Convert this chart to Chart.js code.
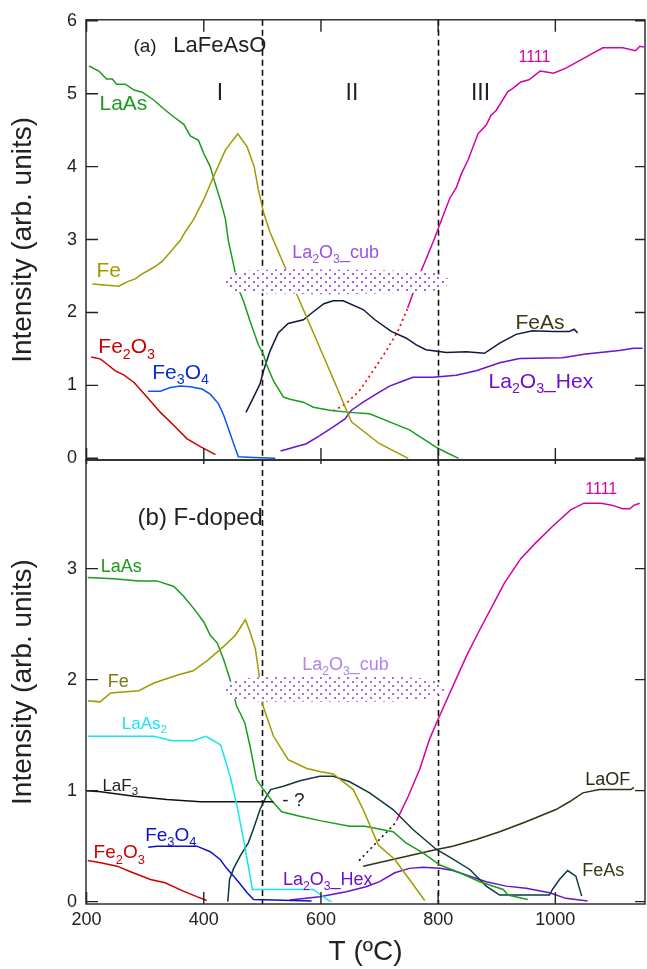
<!DOCTYPE html>
<html>
<head>
<meta charset="utf-8">
<script src="https://cdn.jsdelivr.net/npm/chart.js@4.4.1/dist/chart.umd.min.js"></script>
<style>
  html, body { margin: 0; padding: 0; background: #fff; }
  #wrap { position: relative; width: 647px; height: 969px; }
  #wrap canvas { position: absolute; left: 0; top: 0; }
</style>
</head>
<body>
<div id="wrap">
  <canvas id="topChart" width="647" height="969"></canvas>
  <canvas id="bottomChart" width="647" height="969"></canvas>
</div>
<script>
const FONT = '"Liberation Sans", Arial, Helvetica, sans-serif';

// axes
const xTicks = [200, 400, 600, 800, 1000];
const yTicksA = [0, 1, 2, 3, 4, 5, 6];
const yTicksB = [0, 1, 2, 3];
const boundaryT = [500, 800];

// ---- (a) LaFeAsO ----
const laAsA_T = [204, 221, 234, 244, 251, 266, 281, 295, 315, 332, 349, 366, 377, 391, 400, 411, 419, 428, 437, 442, 451, 459, 468, 479, 493, 502, 507, 519, 536, 547, 570, 587, 615, 649, 683, 717, 751, 774, 797, 814, 835];
const laAsA_I = [5.38, 5.31, 5.20, 5.20, 5.13, 5.13, 5.05, 5.02, 4.91, 4.79, 4.68, 4.58, 4.42, 4.36, 4.18, 4.00, 3.78, 3.55, 3.28, 2.98, 2.65, 2.33, 2.15, 1.88, 1.56, 1.42, 1.29, 1.06, 0.84, 0.81, 0.77, 0.70, 0.66, 0.63, 0.61, 0.50, 0.39, 0.27, 0.15, 0.08, 0.0];

const feA_T = [210, 255, 269, 283, 295, 315, 329, 343, 360, 368, 383, 400, 417, 437, 458, 474, 486, 493, 502, 513, 564, 615, 652, 700, 749];
const feA_I = [2.39, 2.36, 2.42, 2.46, 2.53, 2.62, 2.70, 2.83, 2.99, 3.10, 3.28, 3.55, 3.87, 4.23, 4.45, 4.27, 4.00, 3.69, 3.37, 3.10, 2.15, 1.20, 0.50, 0.20, 0.0];

const fe2o3A_T = [208, 224, 235, 249, 264, 281, 303, 326, 349, 371, 394, 420];
const fe2o3A_I = [1.39, 1.36, 1.29, 1.20, 1.14, 1.04, 0.84, 0.63, 0.45, 0.27, 0.16, 0.05];

const fe3o4A_T = [305, 326, 343, 360, 377, 397, 411, 425, 434, 442, 451, 459, 485, 522];
const fe3o4A_I = [0.92, 0.92, 0.97, 0.99, 0.98, 0.95, 0.88, 0.75, 0.59, 0.41, 0.20, 0.02, 0.01, 0.0];

const feAsA_T = [472, 485, 496, 502, 513, 527, 544, 570, 587, 605, 621, 638, 672, 692, 720, 745, 762, 779, 814, 848, 879, 905, 933, 961, 996, 1024, 1032, 1038];
const feAsA_I = [0.63, 0.84, 1.02, 1.20, 1.47, 1.72, 1.85, 1.90, 2.01, 2.12, 2.16, 2.16, 2.04, 1.90, 1.74, 1.65, 1.56, 1.49, 1.45, 1.46, 1.44, 1.58, 1.70, 1.75, 1.74, 1.74, 1.77, 1.72];

const hexA_T = [531, 575, 598, 621, 641, 652, 672, 694, 717, 740, 757, 791, 831, 865, 905, 939, 1012, 1052, 1109, 1134, 1149];
const hexA_I = [0.10, 0.20, 0.31, 0.43, 0.54, 0.66, 0.77, 0.88, 0.99, 1.06, 1.11, 1.11, 1.14, 1.20, 1.31, 1.37, 1.38, 1.43, 1.48, 1.51, 1.51];

const extrapA_T = [621, 643, 666, 689, 711, 731, 748];
const extrapA_I = [0.65, 0.75, 0.93, 1.20, 1.47, 1.74, 2.06];

const p1111A_T = [748, 768, 791, 820, 831, 839, 851, 868, 882, 890, 899, 919, 927, 941, 955, 974, 997, 1018, 1052, 1081, 1115, 1137, 1144, 1151];
const p1111A_I = [2.06, 2.51, 2.96, 3.57, 3.71, 3.89, 4.09, 4.45, 4.57, 4.70, 4.77, 5.03, 5.07, 5.16, 5.19, 5.31, 5.28, 5.35, 5.50, 5.63, 5.63, 5.59, 5.65, 5.64];

const cubA_T = [437, 450, 470, 520, 600, 700, 780, 805, 822];
const cubA_hi = [2.47, 2.54, 2.57, 2.59, 2.59, 2.58, 2.56, 2.51, 2.44];
const cubA_lo = [2.37, 2.30, 2.27, 2.26, 2.25, 2.26, 2.28, 2.33, 2.40];

// ---- (b) F-doped ----
const laAsB_T = [202, 246, 289, 320, 349, 366, 383, 400, 411, 423, 434, 445, 456, 462, 470, 479, 490, 502, 519, 533, 564, 598, 649, 675, 723, 745, 774, 803, 837, 871, 911, 919, 953];
const laAsB_I = [2.92, 2.91, 2.89, 2.89, 2.84, 2.75, 2.64, 2.52, 2.40, 2.33, 2.18, 2.00, 1.76, 1.70, 1.61, 1.40, 1.10, 1.01, 0.89, 0.81, 0.77, 0.73, 0.68, 0.68, 0.63, 0.53, 0.44, 0.33, 0.26, 0.18, 0.11, 0.06, 0.02];

const feB_T = [202, 223, 241, 289, 315, 354, 382, 408, 434, 454, 471, 479, 488, 494, 500, 519, 544, 576, 600, 621, 655, 672, 698, 726, 751, 777];
const feB_I = [1.81, 1.80, 1.88, 1.90, 1.97, 2.04, 2.08, 2.18, 2.30, 2.40, 2.54, 2.43, 2.28, 2.06, 1.78, 1.49, 1.28, 1.20, 1.17, 1.15, 1.01, 0.83, 0.51, 0.38, 0.20, 0.01];

const laAs2B_T = [202, 315, 346, 382, 403, 417, 429, 445, 458, 470, 483, 587, 600, 610, 618];
const laAs2B_I = [1.49, 1.49, 1.45, 1.45, 1.49, 1.45, 1.41, 1.13, 0.83, 0.50, 0.11, 0.11, 0.06, 0.02, 0.0];

const laF3B_T = [200, 224, 281, 337, 394, 519];
const laF3B_I = [1.00, 0.99, 0.95, 0.92, 0.90, 0.90];

const fe3o4B_T = [305, 320, 360, 388, 411, 428, 439, 451, 459, 474, 485, 519, 584];
const fe3o4B_I = [0.49, 0.50, 0.50, 0.50, 0.45, 0.38, 0.30, 0.23, 0.18, 0.08, 0.02, 0.015, 0.006];

const fe2o3B_T = [202, 224, 252, 275, 309, 334, 363, 388, 405];
const fe2o3B_I = [0.37, 0.35, 0.32, 0.27, 0.20, 0.17, 0.10, 0.045, 0.01];

const feAsB_T = [441, 444, 451, 462, 476, 485, 496, 505, 514, 536, 564, 598, 621, 649, 683, 723, 757, 797, 814, 854, 882, 905, 990, 995, 1007, 1021, 1035, 1045];
const feAsB_I = [0.0, 0.20, 0.30, 0.41, 0.53, 0.66, 0.83, 0.93, 1.01, 1.04, 1.09, 1.13, 1.13, 1.08, 0.98, 0.83, 0.65, 0.47, 0.42, 0.29, 0.14, 0.06, 0.06, 0.11, 0.20, 0.28, 0.23, 0.05];

const laOFB_T = [672, 797, 825, 865, 905, 950, 1001, 1024, 1047, 1075, 1109, 1129, 1134];
const laOFB_I = [0.32, 0.47, 0.50, 0.56, 0.63, 0.72, 0.83, 0.90, 0.98, 1.01, 1.01, 1.01, 1.03];

const extrapB_T = [665, 729];
const extrapB_I = [0.37, 0.72];

const p1111B_T = [729, 749, 769, 785, 797, 808, 825, 848, 871, 893, 913, 941, 966, 995, 1026, 1049, 1078, 1098, 1115, 1127, 1134, 1144];
const p1111B_I = [0.73, 0.95, 1.20, 1.46, 1.61, 1.74, 1.94, 2.21, 2.45, 2.67, 2.87, 3.09, 3.23, 3.38, 3.53, 3.59, 3.59, 3.57, 3.54, 3.54, 3.57, 3.59];

const hexB_T = [547, 598, 643, 677, 700, 726, 751, 774, 803, 825, 848, 882, 916, 950, 990, 1018, 1055];
const hexB_I = [0.015, 0.045, 0.09, 0.135, 0.18, 0.26, 0.30, 0.31, 0.30, 0.28, 0.24, 0.18, 0.14, 0.12, 0.08, 0.03, 0.006];

const cubB_T = [437, 450, 470, 520, 600, 700, 780, 800, 816];
const cubB_hi = [1.95, 1.99, 2.01, 2.03, 2.04, 2.03, 2.01, 1.98, 1.93];
const cubB_lo = [1.88, 1.83, 1.81, 1.80, 1.80, 1.80, 1.82, 1.86, 1.90];

// text placed on the plots, anchored in data units (left, baseline)
const labelsA = [
  { t: 280, v: 5.57, text: '(a)', size: 19, color: '#222' },
  { t: 348, v: 5.57, text: 'LaFeAsO', size: 22, color: '#222' },
  { t: 422, v: 4.92, text: 'I', size: 23, color: '#222' },
  { t: 642, v: 4.92, text: 'II', size: 23, color: '#222' },
  { t: 856, v: 4.92, text: 'III', size: 23, color: '#222' },
  { t: 222, v: 4.77, text: 'LaAs', size: 21, color: '#1a9c1a' },
  { t: 937, v: 5.44, text: '1111', size: 16, color: '#d400a8' },
  { t: 217, v: 2.48, text: 'Fe', size: 21, color: '#a09a00' },
  { t: 220, v: 1.44, text: 'Fe{2}O{3}', size: 21, color: '#cc0000' },
  { t: 312, v: 1.09, text: 'Fe{3}O{4}', size: 21, color: '#0a2fd0' },
  { t: 551, v: 2.74, text: 'La{2}O{3}_cub', size: 18, color: '#9a52e4' },
  { t: 932, v: 1.78, text: 'FeAs', size: 21, color: '#3a3a12' },
  { t: 886, v: 0.97, text: 'La{2}O{3}_Hex', size: 21, color: '#6a12d0' }
];
const labelsB = [
  { t: 287, v: 3.39, text: '(b) F-doped', size: 24, color: '#222' },
  { t: 224, v: 2.97, text: 'LaAs', size: 18, color: '#1a9c1a' },
  { t: 236, v: 1.93, text: 'Fe', size: 18, color: '#7d7810' },
  { t: 568, v: 2.09, text: 'La{2}O{3}_cub', size: 18, color: '#b184ec' },
  { t: 1051, v: 3.67, text: '1111', size: 16, color: '#d400a8' },
  { t: 260, v: 1.56, text: 'LaAs{2}', size: 17, color: '#16e4f0' },
  { t: 227, v: 1.00, text: 'LaF{3}', size: 17, color: '#222' },
  { t: 534, v: 0.86, text: '- ?', size: 19, color: '#222' },
  { t: 300, v: 0.55, text: 'Fe{3}O{4}', size: 19, color: '#1010c8' },
  { t: 212, v: 0.39, text: 'Fe{2}O{3}', size: 19, color: '#cc0000' },
  { t: 535, v: 0.15, text: 'La{2}O{3}_Hex', size: 18, color: '#6a12d0' },
  { t: 1051, v: 1.05, text: 'LaOF', size: 18, color: '#2b2b14' },
  { t: 1046, v: 0.23, text: 'FeAs', size: 18, color: '#3a3a12' }
];

function pts(ts, vs) {
  return ts.map((t, i) => ({ x: t, y: vs[i] }));
}

// white tile with a staggered grid of dots; the band hides what lies under it
function stipple(color) {
  const c = document.createElement('canvas');
  c.width = 9; c.height = 8;
  const g = c.getContext('2d');
  g.fillStyle = '#fff';
  g.fillRect(0, 0, 9, 8);
  g.fillStyle = color;
  g.fillRect(1, 1, 2, 2);
  g.fillRect(5, 5, 2, 2);
  return g.createPattern(c, 'repeat');
}

function line(label, ts, vs, color, extra) {
  return Object.assign({
    label, data: pts(ts, vs), borderColor: color, borderWidth: 1.5,
    pointRadius: 0, tension: 0, fill: false
  }, extra || {});
}

// listed first so Chart.js paints it last, over the curves
function band(label, ts, hi, lo, color) {
  return [
    { label: label + ' hi', data: pts(ts, hi), borderWidth: 0, borderColor: 'transparent',
      pointRadius: 0, tension: 0.3, fill: '+1', backgroundColor: stipple(color) },
    { label: label + ' lo', data: pts(ts, lo), borderWidth: 0, borderColor: 'transparent',
      pointRadius: 0, tension: 0.3, fill: false }
  ];
}

// text with {..} parts drawn as subscripts
function drawRich(ctx, x, y, text, size, color) {
  const parts = text.split(/(\{[^}]*\})/).filter(Boolean);
  ctx.fillStyle = color;
  ctx.textAlign = 'left';
  ctx.textBaseline = 'alphabetic';
  let cx = x;
  for (const p of parts) {
    const sub = p[0] === '{';
    const s = sub ? p.slice(1, -1) : p;
    const fs = sub ? size * 0.68 : size;
    ctx.font = fs + 'px ' + FONT;
    ctx.fillText(s, cx, sub ? y + size * 0.27 : y);
    cx += ctx.measureText(s).width;
  }
}

const decor = {
  id: 'decor',
  beforeDatasetsDraw(chart) {
    const { ctx, chartArea: a } = chart;
    const x = chart.scales.x;
    // phase boundaries
    ctx.save();
    ctx.strokeStyle = '#111';
    ctx.lineWidth = 1.6;
    ctx.setLineDash([6, 4]);
    for (const t of boundaryT) {
      const px = Math.round(x.getPixelForValue(t)) + 0.5;
      ctx.beginPath(); ctx.moveTo(px, a.top); ctx.lineTo(px, a.bottom); ctx.stroke();
    }
    ctx.restore();
  },
  afterDatasetsDraw(chart, args, opts) {
    const { ctx, chartArea: a } = chart;
    const x = chart.scales.x, y = chart.scales.y;
    ctx.save();

    // frame and inward ticks
    ctx.strokeStyle = '#222';
    ctx.lineWidth = 1.4;
    ctx.strokeRect(a.left, a.top, a.right - a.left, a.bottom - a.top);
    ctx.beginPath();
    for (const v of opts.yTicks) {
      const py = y.getPixelForValue(v);
      ctx.moveTo(a.left, py); ctx.lineTo(a.left + 12, py);
      ctx.moveTo(a.right, py); ctx.lineTo(a.right - 10, py);
    }
    for (const t of xTicks) {
      const px = x.getPixelForValue(t);
      ctx.moveTo(px, a.top); ctx.lineTo(px, a.top + opts.topTick);
      ctx.moveTo(px, a.bottom); ctx.lineTo(px, a.bottom - 12);
    }
    ctx.stroke();

    for (const lb of opts.labels) {
      drawRich(ctx, x.getPixelForValue(lb.t), y.getPixelForValue(lb.v), lb.text, lb.size, lb.color);
    }
    ctx.restore();
  }
};

function yAxis(ticks, min, max) {
  return {
    type: 'linear', min, max,
    afterFit: s => { s.width = 86; },
    afterBuildTicks: s => { s.ticks = ticks.map(v => ({ value: v })); },
    grid: { display: false, drawTicks: false },
    border: { display: false },
    ticks: { font: { size: 18, family: FONT }, color: '#222', padding: 9, callback: v => String(v) },
    title: {
      display: true, text: 'Intensity (arb. units)', color: '#222',
      font: { size: 28, family: FONT }, padding: { top: 6, bottom: 0 }
    }
  };
}

const topDatasets = [
  ...band('La2O3_cub', cubA_T, cubA_hi, cubA_lo, '#a05de8'),
  line('Fe2O3', fe2o3A_T, fe2o3A_I, '#cc0000'),
  line('Fe3O4', fe3o4A_T, fe3o4A_I, '#0a55f0'),
  line('Fe', feA_T, feA_I, '#a09a00'),
  line('LaAs', laAsA_T, laAsA_I, '#1a9c1a'),
  line('FeAs', feAsA_T, feAsA_I, '#0e1a3c'),
  line('La2O3_Hex', hexA_T, hexA_I, '#6a12d0'),
  line('1111 (extrapolated)', extrapA_T, extrapA_I, '#ee1111', { borderDash: [2, 3.5], borderWidth: 1.8 }),
  line('1111', p1111A_T, p1111A_I, '#d400a8')
];

const bottomDatasets = [
  ...band('La2O3_cub', cubB_T, cubB_hi, cubB_lo, '#a569ea'),
  line('Fe2O3', fe2o3B_T, fe2o3B_I, '#cc0000'),
  line('Fe3O4', fe3o4B_T, fe3o4B_I, '#1010c8'),
  line('LaAs2', laAs2B_T, laAs2B_I, '#16e4f0'),
  line('LaF3', laF3B_T, laF3B_I, '#111'),
  line('Fe', feB_T, feB_I, '#a09a00'),
  line('LaAs', laAsB_T, laAsB_I, '#1a9c1a'),
  line('FeAs', feAsB_T, feAsB_I, '#0c3a3a'),
  line('LaOF', laOFB_T, laOFB_I, '#2b3510'),
  line('La2O3_Hex', hexB_T, hexB_I, '#6a12d0'),
  line('1111 (extrapolated)', extrapB_T, extrapB_I, '#111', { borderDash: [2, 3.5], borderWidth: 1.6 }),
  line('1111', p1111B_T, p1111B_I, '#d400a8')
];

const common = {
  type: 'line',
  plugins: [decor]
};

new Chart(document.getElementById('topChart'), {
  ...common,
  data: { datasets: topDatasets },
  options: {
    responsive: false,
    animation: false,
    layout: { padding: { top: 15, bottom: 509, left: 0, right: 2 } },
    scales: {
      x: { type: 'linear', min: 199, max: 1153, display: false },
      y: yAxis(yTicksA, -0.023, 6.013)
    },
    plugins: {
      legend: { display: false },
      tooltip: { enabled: false },
      decor: { yTicks: yTicksA, labels: labelsA, topTick: 12 }
    }
  }
});

new Chart(document.getElementById('bottomChart'), {
  ...common,
  data: { datasets: bottomDatasets },
  options: {
    responsive: false,
    animation: false,
    layout: { padding: { top: 460, bottom: 0, left: 0, right: 2 } },
    scales: {
      x: {
        type: 'linear', min: 199, max: 1153,
        afterFit: s => { s.height = 65; },
        afterBuildTicks: s => { s.ticks = xTicks.map(v => ({ value: v })); },
        grid: { display: false, drawTicks: false },
        border: { display: false },
        ticks: {
          font: { size: 18, family: FONT }, color: '#222', padding: 5,
          maxRotation: 0, autoSkip: false, callback: v => String(v)
        },
        title: {
          display: true, text: 'T (ºC)', color: '#222',
          font: { size: 28, family: FONT }, padding: { top: 0, bottom: 0 }
        }
      },
      y: yAxis(yTicksB, -0.021, 3.979)
    },
    plugins: {
      legend: { display: false },
      tooltip: { enabled: false },
      decor: { yTicks: yTicksB, labels: labelsB, topTick: 4 }
    }
  }
});
</script>
</body>
</html>
